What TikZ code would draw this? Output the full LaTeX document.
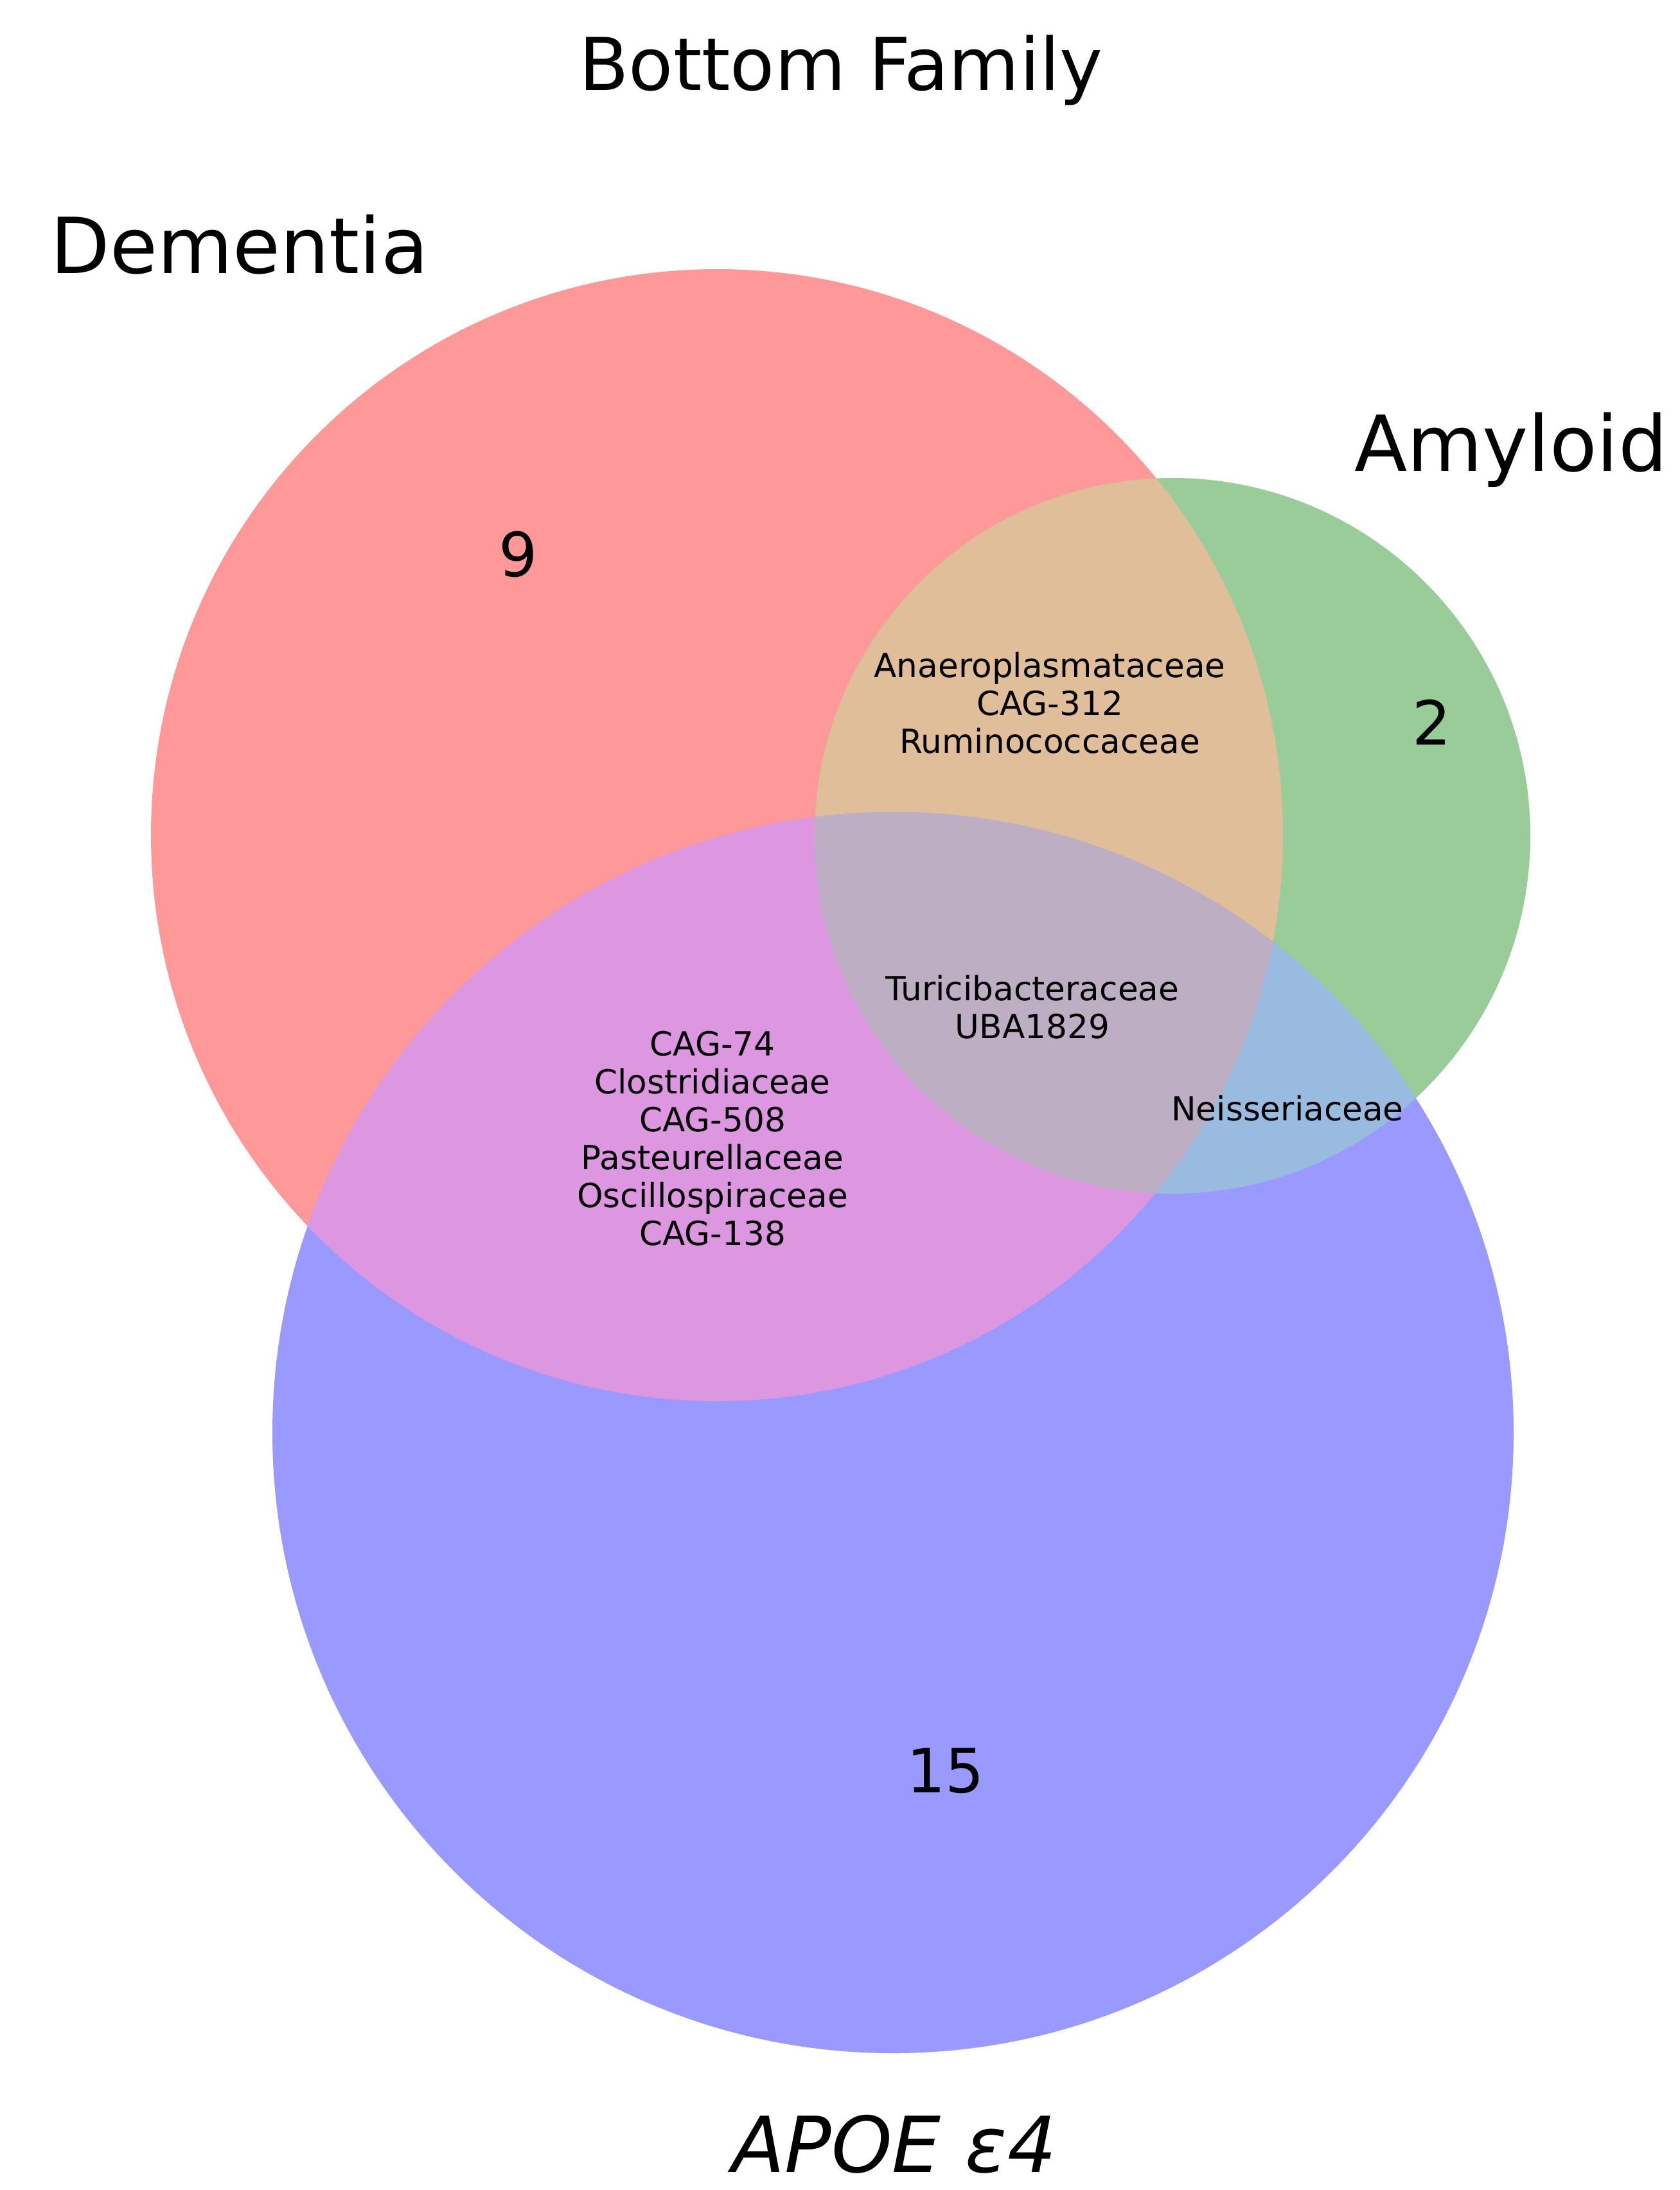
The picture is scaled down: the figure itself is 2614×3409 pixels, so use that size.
\documentclass[tikz,border=0pt]{standalone}
\usepackage{fontspec}
\setmainfont{DejaVu Sans}
\begin{document}
\begin{tikzpicture}[x=0.01cm,y=-0.01cm,
  setlabel/.style={inner sep=0pt,font=\fontsize{34.2}{40}\selectfont},
  titlelabel/.style={inner sep=0pt,font=\fontsize{32.2}{38}\selectfont},
  countlabel/.style={inner sep=0pt,font=\fontsize{27}{32}\selectfont},
  smalllabel/.style={inner sep=0pt,align=center,font=\fontsize{14.7}{16.8}\selectfont}]
\definecolor{cR}{RGB}{255,153,153}
\definecolor{cG}{RGB}{153,204,153}
\definecolor{cB}{RGB}{153,153,255}
\definecolor{cRG}{RGB}{224,190,153}
\definecolor{cRB}{RGB}{221,150,224}
\definecolor{cGB}{RGB}{153,187,224}
\definecolor{cRGB}{RGB}{190,174,196}
\useasboundingbox (0,0) rectangle (2614,3409);
\fill[white] (0,0) rectangle (2614,3409);
% circles
\coordinate (cD) at (1116,1300);
\coordinate (cA) at (1825,1301);
\coordinate (cP) at (1390,2230);
\fill[cR] (cD) circle[radius=881];
\fill[cG] (cA) circle[radius=557];
\fill[cB] (cP) circle[radius=966];
\begin{scope}
  \clip (cD) circle[radius=881];
  \fill[cRG] (cA) circle[radius=557];
  \fill[cRB] (cP) circle[radius=966];
\end{scope}
\begin{scope}
  \clip (cA) circle[radius=557];
  \fill[cGB] (cP) circle[radius=966];
\end{scope}
\begin{scope}
  \clip (cD) circle[radius=881];
  \clip (cA) circle[radius=557];
  \fill[cRGB] (cP) circle[radius=966];
\end{scope}
% labels
\node[titlelabel] (title) at (1309,109) {Bottom Family};
\node[setlabel] (dem) at (373,381) {Dementia};
\node[setlabel] (amy) at (2352,700) {Amyloid};
\node[setlabel] (apoe) at (1392,3338) {\itshape APOE ε4};
\node[countlabel] (n9) at (807,863) {9};
\node[countlabel] (n2) at (2229,1124) {2};
\node[countlabel] (n15) at (1472,2757) {15};
\node[smalllabel] (rg) at (1634,1094) {Anaeroplasmataceae\\CAG-312\\Ruminococcaceae};
\node[smalllabel] (rgb) at (1607,1568) {Turicibacteraceae\\UBA1829};
\node[smalllabel] (rb) at (1109,1772) {CAG-74\\Clostridiaceae\\CAG-508\\Pasteurellaceae\\Oscillospiraceae\\CAG-138};
\node[smalllabel] (gb) at (2004,1725) {Neisseriaceae};
\end{tikzpicture}
\end{document}
